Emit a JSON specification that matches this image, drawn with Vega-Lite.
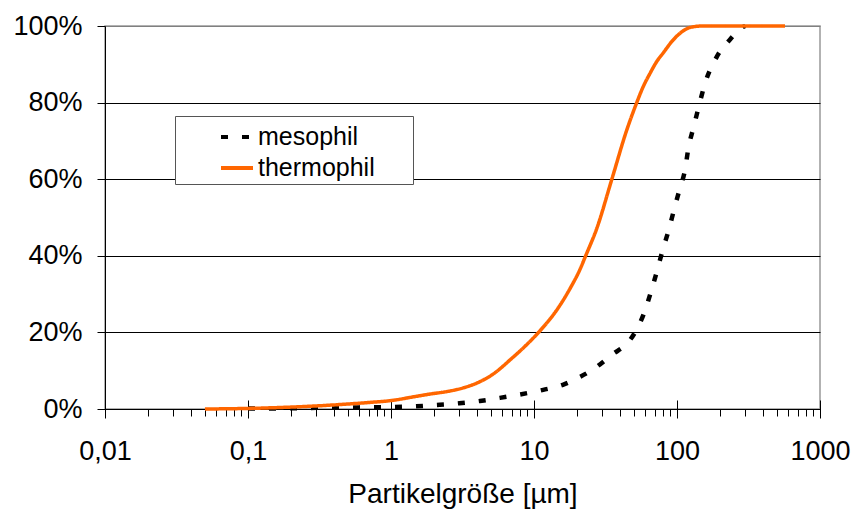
{
  "$schema": "https://vega.github.io/schema/vega-lite/v6.json",
  "width": 715,
  "height": 383,
  "autosize": {"type": "none"},
  "padding": {"left": 105, "top": 26, "right": 36, "bottom": 102},
  "background": "white",
  "config": {
    "font": "Liberation Sans",
    "view": {"stroke": "#999999", "strokeWidth": 1.5},
    "axis": {
      "labelFont": "Liberation Sans",
      "titleFont": "Liberation Sans",
      "labelColor": "black",
      "titleColor": "black",
      "tickColor": "black",
      "domainColor": "black",
      "labelFontSize": 27,
      "titleFontSize": 28,
      "titleFontWeight": "normal"
    }
  },
  "data": {
    "values": [
      {"series": "mesophil", "size": 0.1, "pct": 0.1},
      {"series": "mesophil", "size": 0.2, "pct": 0.2},
      {"series": "mesophil", "size": 0.3, "pct": 0.3},
      {"series": "mesophil", "size": 0.5, "pct": 0.4},
      {"series": "mesophil", "size": 1.0, "pct": 0.5},
      {"series": "mesophil", "size": 1.5, "pct": 0.7},
      {"series": "mesophil", "size": 1.97, "pct": 1.0},
      {"series": "mesophil", "size": 3.0, "pct": 1.5},
      {"series": "mesophil", "size": 4.19, "pct": 2.1},
      {"series": "mesophil", "size": 5.78, "pct": 2.9},
      {"series": "mesophil", "size": 8.0, "pct": 3.8},
      {"series": "mesophil", "size": 11.6, "pct": 5.0},
      {"series": "mesophil", "size": 15.9, "pct": 6.3},
      {"series": "mesophil", "size": 20.0, "pct": 8.0},
      {"series": "mesophil", "size": 26.0, "pct": 10.4},
      {"series": "mesophil", "size": 34.9, "pct": 14.1},
      {"series": "mesophil", "size": 46.9, "pct": 18.0},
      {"series": "mesophil", "size": 52.3, "pct": 20.8},
      {"series": "mesophil", "size": 58.1, "pct": 24.5},
      {"series": "mesophil", "size": 65.5, "pct": 30.4},
      {"series": "mesophil", "size": 72.8, "pct": 36.3},
      {"series": "mesophil", "size": 79.4, "pct": 41.5},
      {"series": "mesophil", "size": 87.5, "pct": 46.7},
      {"series": "mesophil", "size": 95.3, "pct": 52.0},
      {"series": "mesophil", "size": 104, "pct": 57.2},
      {"series": "mesophil", "size": 114, "pct": 62.6},
      {"series": "mesophil", "size": 120, "pct": 68.0},
      {"series": "mesophil", "size": 130, "pct": 73.3},
      {"series": "mesophil", "size": 141, "pct": 78.5},
      {"series": "mesophil", "size": 157, "pct": 85.0},
      {"series": "mesophil", "size": 190, "pct": 92.0},
      {"series": "mesophil", "size": 235, "pct": 96.5},
      {"series": "mesophil", "size": 291, "pct": 99.8},
      {"series": "mesophil", "size": 300, "pct": 100},
      {"series": "thermophil", "size": 0.05, "pct": 0},
      {"series": "thermophil", "size": 0.1, "pct": 0.15},
      {"series": "thermophil", "size": 0.2, "pct": 0.5},
      {"series": "thermophil", "size": 0.3, "pct": 0.8},
      {"series": "thermophil", "size": 0.5, "pct": 1.3},
      {"series": "thermophil", "size": 0.7, "pct": 1.7},
      {"series": "thermophil", "size": 1.0, "pct": 2.2},
      {"series": "thermophil", "size": 1.5, "pct": 3.3},
      {"series": "thermophil", "size": 1.87, "pct": 3.9},
      {"series": "thermophil", "size": 2.5, "pct": 4.6},
      {"series": "thermophil", "size": 3.19, "pct": 5.5},
      {"series": "thermophil", "size": 4.0, "pct": 6.8},
      {"series": "thermophil", "size": 5.17, "pct": 9.1},
      {"series": "thermophil", "size": 6.98, "pct": 13.2},
      {"series": "thermophil", "size": 8.5, "pct": 16.1},
      {"series": "thermophil", "size": 11.0, "pct": 20.4},
      {"series": "thermophil", "size": 14.4, "pct": 25.8},
      {"series": "thermophil", "size": 17.9, "pct": 31.5},
      {"series": "thermophil", "size": 21.0, "pct": 36.5},
      {"series": "thermophil", "size": 23.1, "pct": 40.2},
      {"series": "thermophil", "size": 27.4, "pct": 47.0},
      {"series": "thermophil", "size": 34.9, "pct": 59.8},
      {"series": "thermophil", "size": 44.5, "pct": 72.8},
      {"series": "thermophil", "size": 52.3, "pct": 80.0},
      {"series": "thermophil", "size": 58.1, "pct": 84.2},
      {"series": "thermophil", "size": 64.7, "pct": 87.6},
      {"series": "thermophil", "size": 72.1, "pct": 90.7},
      {"series": "thermophil", "size": 80.2, "pct": 93.0},
      {"series": "thermophil", "size": 91.8, "pct": 95.9},
      {"series": "thermophil", "size": 105, "pct": 98.1},
      {"series": "thermophil", "size": 123, "pct": 99.6},
      {"series": "thermophil", "size": 150, "pct": 100},
      {"series": "thermophil", "size": 200, "pct": 100},
      {"series": "thermophil", "size": 569, "pct": 100}
    ]
  },
  "layer": [
    {
      "transform": [{"filter": "datum.series == 'mesophil'"}],
      "mark": {"type": "line", "strokeWidth": 4.5, "interpolate": "monotone"},
      "encoding": {
        "x": {
          "field": "size",
          "type": "quantitative",
          "scale": {"type": "log", "domain": [0.01, 1000], "nice": false},
          "axis": {
            "orient": "bottom",
            "values": [0.01, 0.02, 0.03, 0.04, 0.05, 0.06, 0.07, 0.08, 0.09, 0.1, 0.2, 0.3, 0.4, 0.5, 0.6, 0.7, 0.8, 0.9, 1, 2, 3, 4, 5, 6, 7, 8, 9, 10, 20, 30, 40, 50, 60, 70, 80, 90, 100, 200, 300, 400, 500, 600, 700, 800, 900, 1000],
            "labelExpr": "indexof([0.01, 0.1, 1, 10, 100, 1000], datum.value) >= 0 ? replace(format(datum.value, '~g'), '.', ',') : ''",
            "tickSize": 7,
            "labelPadding": 22,
            "labelOverlap": false,
            "labelFlush": false,
            "labelBound": false,
            "grid": false,
            "title": "Partikelgröße [µm]",
            "titlePadding": 16
          }
        },
        "y": {
          "field": "pct",
          "type": "quantitative",
          "scale": {"domain": [0, 100], "nice": false},
          "axis": {
            "values": [0, 20, 40, 60, 80, 100],
            "labelExpr": "datum.value + '%'",
            "tickSize": 8,
            "labelPadding": 15,
            "grid": true,
            "gridColor": {"condition": {"test": "datum.value == 100", "value": "#808080"}, "value": "#000000"},
            "gridWidth": 1,
            "title": null
          }
        },
        "color": {
          "field": "series",
          "type": "nominal",
          "scale": {"domain": ["mesophil", "thermophil"], "range": ["#000000", "#FF6600"]},
          "legend": {"title": "\u00a0", "titleOrient": "right", "titlePadding": 35, "titleFontSize": 4, "orient": "none", "legendX": 70, "legendY": 90, "direction": "vertical", "symbolType": "stroke", "symbolSize": 1024, "symbolStrokeWidth": 4, "labelFontSize": 25, "labelFont": "Liberation Sans", "labelColor": "black", "strokeColor": "#555555", "fillColor": "white", "padding": 3, "rowPadding": 0, "symbolOffset": 41, "labelOffset": 3}
        },
        "strokeDash": {
          "field": "series",
          "type": "nominal",
          "scale": {"domain": ["mesophil", "thermophil"], "range": [[7, 14], [1, 0]]},
          "legend": {"title": "\u00a0", "titleOrient": "right", "titlePadding": 35, "titleFontSize": 4, "orient": "none", "legendX": 70, "legendY": 90, "direction": "vertical", "symbolType": "stroke", "symbolSize": 1024, "symbolStrokeWidth": 4, "labelFontSize": 25, "labelFont": "Liberation Sans", "labelColor": "black", "strokeColor": "#555555", "fillColor": "white", "padding": 3, "rowPadding": 0, "symbolOffset": 41, "labelOffset": 3}
        }
      }
    },
    {
      "transform": [{"filter": "datum.series == 'thermophil'"}],
      "mark": {"type": "line", "strokeWidth": 3.5, "interpolate": "monotone"},
      "encoding": {
        "x": {
          "field": "size",
          "type": "quantitative",
          "scale": {"type": "log", "domain": [0.01, 1000], "nice": false},
          "axis": {
            "orient": "bottom",
            "offset": -9,
            "values": [0.01, 0.1, 1, 10, 100, 1000],
            "tickSize": 18,
            "labels": false,
            "domain": false,
            "grid": false,
            "title": null
          }
        },
        "y": {"field": "pct", "type": "quantitative"},
        "color": {"field": "series", "type": "nominal"},
        "strokeDash": {"field": "series", "type": "nominal"}
      }
    }
  ],
  "resolve": {"axis": {"x": "independent"}}
}
